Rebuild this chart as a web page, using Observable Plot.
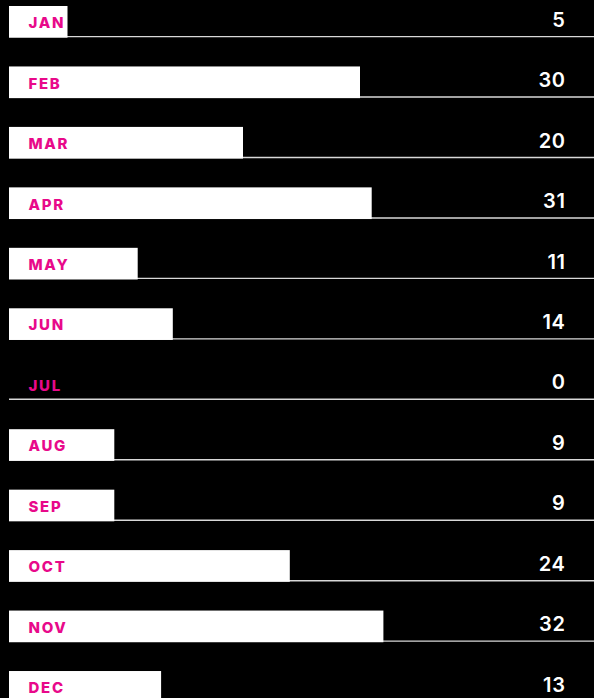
<!DOCTYPE html>
<html>
<head>
<meta charset="utf-8">
<script src="https://cdn.jsdelivr.net/npm/d3@7"></script>
<script src="https://cdn.jsdelivr.net/npm/@observablehq/plot@0.6"></script>
<style>
  html, body { margin: 0; padding: 0; background: #000; overflow: hidden; width: 594px; height: 698px; }
  #chart svg { display: block; }
  g[fill="#e8098a"] text { letter-spacing: 1.7px; }
  g[fill="#ffffff"] text { letter-spacing: 0.6px; }
</style>
</head>
<body>
<div id="chart"></div>
<script>
const months = ["JAN","FEB","MAR","APR","MAY","JUN","JUL","AUG","SEP","OCT","NOV","DEC"];
const values = [5, 30, 20, 31, 11, 14, 0, 9, 9, 24, 32, 13];
const xMax = 50;

const data = months.map((m, i) => ({month: m, value: values[i]}));

const bandStep = 60.45;
const bandPad = 0.476;
const bw = bandStep * (1 - bandPad);

const chart = Plot.plot({
  width: 594,
  height: 720,
  marginLeft: 9,
  marginRight: 0,
  marginTop: 6,
  marginBottom: 17.3,
  style: {background: "#000", overflow: "visible"},
  x: {domain: [0, xMax], axis: null},
  y: {domain: months, axis: null, paddingInner: bandPad, paddingOuter: 0, align: 0, round: false},
  marks: [
    Plot.ruleY(data, {y: "month", stroke: "#d8d8d8", strokeWidth: 1.4, dy: bw / 2 - 1.6}),
    Plot.barX(data, {x: "value", y: "month", fill: "#fff"}),
    Plot.text(data, {
      x: 0, y: "month", text: "month", textAnchor: "start", dx: 19, dy: 1,
      fill: "#e8098a", fontSize: 15, fontWeight: 800, fontFamily: "Inter"
    }),
    Plot.text(data, {
      x: () => xMax, y: "month", text: d => String(d.value), textAnchor: "end", dx: -29, dy: -2,
      fill: "#ffffff", fontSize: 20, fontWeight: 600, fontFamily: "Inter"
    })
  ]
});
document.getElementById("chart").appendChild(chart);
</script>
</body>
</html>
